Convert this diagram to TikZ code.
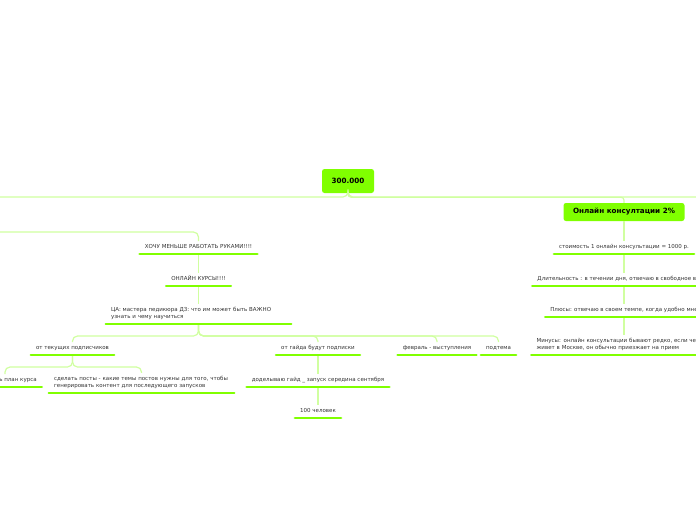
\documentclass[tikz,border=0pt]{standalone}
\usepackage{fontspec}
\setmainfont{DejaVu Sans}
\definecolor{brightg}{RGB}{128,255,0}
\definecolor{connc}{RGB}{208,255,160}
\definecolor{txt}{RGB}{51,51,51}
\begin{document}
\begin{tikzpicture}[x=1pt,y=-1pt,
  conn/.style={draw=connc, line width=1.2pt, rounded corners=5pt},
  ulline/.style={draw=brightg, line width=2.6pt, line cap=round},
  topic/.style={anchor=south, inner xsep=5pt, inner ysep=3.5pt, font=\fontsize{5.5}{7}\selectfont, text=txt, text height=4pt, text depth=1.5pt},
  mtopic/.style={anchor=south, inner xsep=5pt, inner ysep=3.5pt, font=\fontsize{5.5}{7}\selectfont, text=txt, text width=175pt, align=left},
  bigbox/.style={fill=brightg, rounded corners=2.5pt, font=\fontsize{7.2}{9}\selectfont\bfseries, text=black, inner sep=0pt}
]
\useasboundingbox (0,0) rectangle (696,520);
\clip (0,0) rectangle (696,520);

% nodes
\node[bigbox, minimum width=52pt, minimum height=24pt] (root) at (348,181) {300.000};
\node[bigbox, minimum width=121pt, minimum height=18pt] (konsult) at (624,212) {Онлайн консултации 2\%};

\node[topic] (hochu) at (198.5,254) {ХОЧУ МЕНЬШЕ РАБОТАТЬ РУКАМИ!!!!};
\node[topic] (onl) at (198.5,286) {ОНЛАЙН КУРСЫ!!!!};
\node[mtopic] (ca) at (198.5,324) {ЦА: мастера педикюра ДЗ: что им может быть ВАЖНО\\узнать и чему научиться\rule[-1.5pt]{0pt}{0pt}};
\node[topic] (tek) at (72.5,355) {от текущих подписчиков};
\node[topic] (gaid) at (318,355) {от гайда будут подписки};
\node[topic] (fev) at (437,355) {февраль - выступления};
\node[topic] (podt) at (498.5,355) {подтема};
\node[topic] (sost) at (5,387) {составить план курса};
\node[mtopic] (sdel) at (141.5,393) {сделать посты - какие темы постов нужны для того, чтобы\\генерировать контент для последующего запусков\rule[-1.5pt]{0pt}{0pt}};
\node[topic] (dod) at (318,387) {доделываю гайд \_ запуск середина сентября};
\node[topic] (sto) at (318,418) {100 человек};

\node[topic] (stoim) at (624,254) {стоимость 1 онлайн консультации = 1000 р.};
\node[topic] (dlit) at (624,286) {Длительность : в течении дня, отвечаю в свободное время};
\node[topic] (plus) at (624,317) {Плюсы: отвечаю в своем темпе, когда удобно мне};
\node[mtopic] (minus) at (624,355) {\mbox{Минусы: онлайн консультации бывают редко, если человек}\\живет в Москве, он обычно приезжает на прием\rule[-1.5pt]{0pt}{0pt}};

% free ends
\coordinate (offL) at (-30,197);
\coordinate (offR) at (730,197);
\coordinate (offH) at (-30,232);

% connectors
\draw[conn] (root.south) |- (offL);
\draw[conn] (root.south) |- (offR);
\draw[conn, rounded corners=3pt] (root.south) -- ++(0,4) -| (konsult.north);
\draw[conn] (offH) -| (hochu.north);
\draw[conn] (hochu.south) -- (onl.north);
\draw[conn] (onl.south) -- (ca.north);
\foreach \c in {tek,gaid,fev,podt} \draw[conn] (ca.south) -- ++(0,12) -| (\c.north);
\foreach \c in {sost,sdel} \draw[conn] (tek.south) -- ++(0,12) -| (\c.north);
\draw[conn] (gaid.south) -- (dod.north);
\draw[conn] (dod.south) -- (sto.north);
\draw[conn] (konsult.south) -- (stoim.north);
\draw[conn] (stoim.south) -- (dlit.north);
\draw[conn] (dlit.south) -- (plus.north);
\draw[conn] (plus.south) -- (minus.north);

% underlines
\foreach \n in {hochu,onl,ca,tek,gaid,fev,podt,sost,sdel,dod,sto,stoim,dlit,plus,minus}
  \draw[ulline] (\n.south west) -- (\n.south east);
\end{tikzpicture}
\end{document}
